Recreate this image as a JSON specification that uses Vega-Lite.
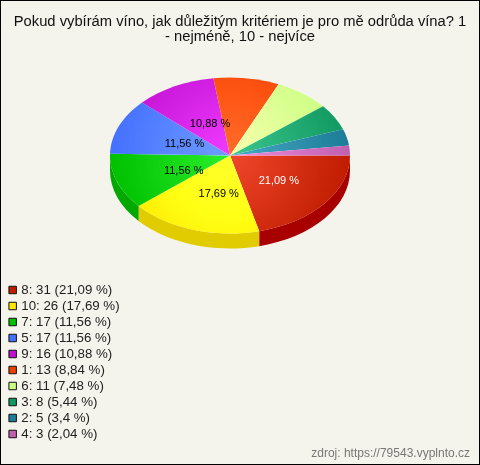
{
"$schema":"https://vega.github.io/schema/vega-lite/v6.json",
"width":480,"height":465,"padding":0,"autosize":"none",
"background":"#f5f4ec",
"view":{"stroke":"#000000","strokeWidth":2,"fill":"#f5f4ec"},
"config":{"font":"Liberation Sans"},
"title":{"text":["Pokud vybírám víno, jak důležitým kritériem je pro mě odrůda vína? 1","- nejméně, 10 - nejvíce"],"anchor":"middle","frame":"group","fontSize":14.75,"fontWeight":"normal","color":"#111111","font":"Liberation Sans","lineHeight":15,"baseline":"top","offset":-44},
"data":{"values":[
{"option":"8","count":31,"share":"21,09 %"},
{"option":"10","count":26,"share":"17,69 %"},
{"option":"7","count":17,"share":"11,56 %"},
{"option":"5","count":17,"share":"11,56 %"},
{"option":"9","count":16,"share":"10,88 %"},
{"option":"1","count":13,"share":"8,84 %"},
{"option":"6","count":11,"share":"7,48 %"},
{"option":"3","count":8,"share":"5,44 %"},
{"option":"2","count":5,"share":"3,4 %"},
{"option":"4","count":3,"share":"2,04 %"}
]},
"transform":[
{"window":[{"op":"sum","field":"count","as":"upto"}]},
{"joinaggregate":[{"op":"sum","field":"count","as":"total"}]},
{"calculate":"datum.option+': '+datum.count+' ('+datum.share+')'","as":"label"},
{"calculate":"(datum.upto-datum.count)/datum.total*2*PI","as":"a0"},
{"calculate":"datum.upto/datum.total*2*PI","as":"a1"},
{"calculate":"round(cos(datum.a0)*10000)/10000","as":"x0"},
{"calculate":"round(0.65*sin(datum.a0)*10000)/10000","as":"y0"},
{"calculate":"round(cos(datum.a1)*10000)/10000","as":"x1"},
{"calculate":"round(0.65*sin(datum.a1)*10000)/10000","as":"y1"}
],
"layer":[
{"transform":[
{"filter":"datum.a0<PI"},
{"calculate":"min(datum.a1,PI)","as":"b1"},
{"calculate":"round(cos(datum.b1)*10000)/10000","as":"xe"},
{"calculate":"round(0.65*sin(datum.b1)*10000)/10000","as":"ye"},
{"calculate":"'M'+datum.x0+','+datum.y0+'A1,0.65 0 0 1 '+datum.xe+','+datum.ye+'L'+datum.xe+','+(datum.ye+0.125)+'A1,0.65 0 0 0 '+datum.x0+','+(datum.y0+0.125)+'Z'","as":"wall"}
],
"mark":{"type":"point","filled":true,"opacity":1,"size":57600},
"encoding":{
"x":{"datum":0,"type":"quantitative","scale":{"domain":[-230,250]},"axis":null},
"y":{"datum":0,"type":"quantitative","scale":{"domain":[-155.5,309.5],"reverse":true},"axis":null},
"shape":{"field":"wall","type":"nominal","scale":null,"legend":null},
"fill":{"field":"option","type":"nominal","legend":null,"scale":{"domain":["8","10","7"],"range":["#a80000","#e0cc00","#00a800"]}}
}
},
{"transform":[
{"calculate":"'M0,0L'+datum.x0+','+datum.y0+'A1,0.65 0 '+(datum.a1-datum.a0>PI?1:0)+' 1 '+datum.x1+','+datum.y1+'Z'","as":"wedge"}
],
"mark":{"type":"point","filled":true,"opacity":1,"size":57600},
"encoding":{
"x":{"datum":0,"type":"quantitative","scale":{"domain":[-230,250]},"axis":null},
"y":{"datum":0,"type":"quantitative","scale":{"domain":[-155.5,309.5],"reverse":true},"axis":null},
"shape":{"field":"wedge","type":"nominal","scale":null,"legend":null},
"color":{"field":"label","type":"nominal","sort":null,
"scale":{"domain":["8: 31 (21,09 %)","10: 26 (17,69 %)","7: 17 (11,56 %)","5: 17 (11,56 %)","9: 16 (10,88 %)","1: 13 (8,84 %)","6: 11 (7,48 %)","3: 8 (5,44 %)","2: 5 (3,4 %)","4: 3 (2,04 %)"],
"range":["#c01c00","#ffe800","#00c000","#4470ff","#c010d0","#e84000","#c8ff80","#109860","#1c7c98","#c060b0"]},
"legend":{"title":null,"orient":"none","legendX":6,"legendY":282,"symbolType":"square","symbolSize":56,"symbolStrokeColor":"#111111","symbolStrokeWidth":1,"symbolOpacity":1,"labelFontSize":13.3,"labelColor":"#222222","labelFont":"Liberation Sans","rowPadding":0,"labelOffset":2,"symbolOffset":0,"labelLimit":200,"clipHeight":16}}
}
},
{"transform":[{"filter":"datum.option=='8'"}],
"mark":{"type":"point","filled":true,"opacity":1,"size":57600,"blend":"color-dodge","shape":"M-1,0A1,0.65 0 1 1 1,0A1,0.65 0 1 1 -1,0Z",
"fill":{"gradient":"radial","x1":0.5,"y1":0.5,"x2":0.5,"y2":0.5,"r1":0,"r2":0.5,"stops":[{"offset":0,"color":"#303030"},{"offset":1,"color":"#000000"}]}},
"encoding":{
"x":{"datum":0,"type":"quantitative","scale":{"domain":[-230,250]},"axis":null},
"y":{"datum":0,"type":"quantitative","scale":{"domain":[-155.5,309.5],"reverse":true},"axis":null}
}
},
{"transform":[{"filter":"datum.option=='8'"}],
"mark":{"type":"point","filled":true,"opacity":1,"size":57600,"shape":"M-1,0A1,0.65 0 1 1 1,0A1,0.65 0 1 1 -1,0Z",
"fill":{"gradient":"radial","x1":0.5,"y1":0.5,"x2":0.5,"y2":0.5,"r1":0,"r2":0.5,"stops":[{"offset":0,"color":"rgba(255,255,255,0.17)"},{"offset":1,"color":"rgba(255,255,255,0)"}]}},
"encoding":{
"x":{"datum":0,"type":"quantitative","scale":{"domain":[-230,250]},"axis":null},
"y":{"datum":0,"type":"quantitative","scale":{"domain":[-155.5,309.5],"reverse":true},"axis":null}
}
},
{"transform":[
{"filter":"datum.count/datum.total>=0.1"},
{"calculate":"(datum.a0+datum.a1)/2","as":"mid"},
{"calculate":"55*cos(datum.mid)+5.5","as":"labelX"},
{"calculate":"38*sin(datum.mid)+2.5","as":"labelY"}
],
"mark":{"type":"text","fontSize":11,"font":"Liberation Sans","baseline":"middle"},
"encoding":{
"x":{"field":"labelX","type":"quantitative","scale":{"domain":[-230,250]},"axis":null},
"y":{"field":"labelY","type":"quantitative","scale":{"domain":[-155.5,309.5],"reverse":true},"axis":null},
"text":{"field":"share"},
"color":{"condition":{"test":"datum.option=='8'","value":"#ffffff"},"value":"#000000"}
}
},
{"data":{"values":[{"source":"zdroj: https://79543.vyplnto.cz"}]},"transform":[],
"mark":{"type":"text","fontSize":12,"font":"Liberation Sans","align":"right","baseline":"middle"},
"encoding":{"x":{"datum":240,"type":"quantitative","scale":{"domain":[-230,250]},"axis":null},"y":{"datum":297,"type":"quantitative","scale":{"domain":[-155.5,309.5],"reverse":true},"axis":null},"text":{"field":"source"},"color":{"value":"#777777"}}
}
]
}
